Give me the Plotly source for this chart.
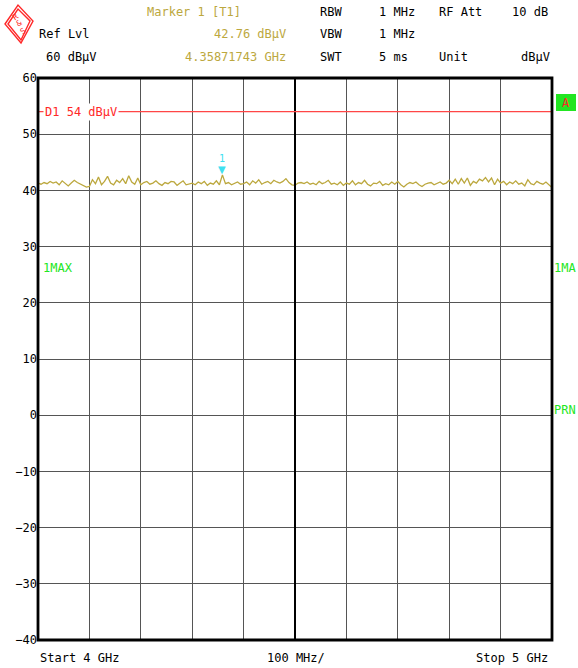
import numpy as np
import plotly.graph_objects as go

# Sweep settings (MHz)
start_mhz = 4000
stop_mhz = 5000
span_per_div = 100

# Max-hold trace levels in dBµV, one list per 100 MHz division
div_levels = [
    [41.3, 41.1, 41.4, 41.2, 41.6, 41.3, 41.5, 41.0, 41.7, 41.2, 40.8, 41.3, 41.8, 41.4, 41.1, 40.9, 40.6],
    [40.7, 41.9, 41.2, 42.4, 41.0, 41.6, 42.5, 41.3, 41.0, 41.8, 41.4, 42.1, 41.2, 42.6, 41.5, 41.1, 42.2],
    [41.0, 41.4, 41.6, 41.1, 41.3, 41.7, 41.2, 40.9, 41.4, 41.2, 41.6, 41.5, 40.9, 41.3, 41.7, 41.0, 41.2],
    [41.3, 41.0, 41.5, 41.2, 41.6, 40.9, 41.3, 41.1, 41.7, 41.0, 42.76, 41.2, 41.4, 41.0, 41.3, 41.5, 41.1],
    [41.2, 41.5, 41.0, 41.7, 41.3, 41.9, 41.1, 41.4, 41.6, 41.2, 41.8, 41.5, 41.3, 41.6, 42.1, 41.4, 41.0],
    [40.9, 41.3, 41.4, 41.2, 41.5, 41.1, 41.3, 41.0, 41.6, 41.2, 41.4, 41.8, 41.1, 41.3, 41.0, 41.5, 40.9],
    [41.3, 41.1, 41.7, 41.0, 41.4, 41.2, 41.8, 41.1, 40.8, 41.3, 41.2, 41.6, 40.9, 41.2, 41.0, 41.5, 41.1],
    [41.6, 41.0, 40.6, 41.1, 41.4, 41.2, 41.5, 41.0, 40.7, 41.1, 41.3, 41.4, 41.0, 41.2, 41.5, 41.1, 41.3],
    [41.8, 41.2, 42.0, 41.1, 42.1, 41.3, 42.2, 40.9, 41.6, 41.3, 42.0, 41.7, 42.3, 41.5, 42.2, 41.0, 42.0],
    [41.3, 41.6, 41.0, 41.5, 41.2, 41.7, 41.1, 41.3, 40.8, 41.9, 41.2, 41.0, 41.6, 41.3, 41.1, 41.5, 40.9, 40.5],
]
levels = [v for d in div_levels for v in d]
freqs = np.linspace(start_mhz, stop_mhz, len(levels))

# Marker 1 and display line
marker_freq_mhz = 4358.71743
marker_level = 42.76
d1_level = 54
ref_level = 60
y_ticks = list(range(-40, 61, 10))

# Pixel frame of the diagram
W, H = 578, 668
L, R, T, B = 38, 552, 78, 640


def px(x):
    return (x - L) / (R - L)


def py(y):
    return (B - y) / (B - T)


FONT = "DejaVu Sans Mono"
OLIVE = "#bca83e"
RED = "#ff2828"
GREEN = "#22e622"

fig = go.Figure()
fig.add_trace(go.Scatter(
    x=freqs, y=levels, mode="lines",
    line=dict(color=OLIVE, width=1.3), hoverinfo="skip", showlegend=False,
))

shapes = []
# centre line
shapes.append(dict(type="line", xref="x", yref="paper", x0=4500, x1=4500, y0=0, y1=1,
                   line=dict(color="black", width=2)))
# display line D1
shapes.append(dict(type="line", xref="paper", yref="y", x0=0, x1=1, y0=d1_level, y1=d1_level,
                   line=dict(color="#ff4646", width=1.2)))
# frame
shapes.append(dict(type="rect", xref="paper", yref="paper", x0=0, x1=1, y0=0, y1=1,
                   line=dict(color="black", width=2.8)))
# limit-check box "A"
shapes.append(dict(type="rect", xref="paper", yref="paper", x0=px(556), x1=px(576),
                   y0=py(111), y1=py(94), fillcolor=GREEN, line=dict(width=0)))


def diamond(pts):
    p = "M " + " L ".join(f"{px(x)},{py(y)}" for x, y in pts) + " Z"
    return dict(type="path", xref="paper", yref="paper", path=p,
                line=dict(color=RED, width=1.4))


shapes.append(diamond([(5, 24), (18, 5), (33, 21), (21, 43)]))
shapes.append(diamond([(8, 24), (18, 9), (30, 21), (21, 40)]))

ann = []


def text(s, x, y, anchor="left", color="black", size=12, **kw):
    ann.append(dict(text=s, x=px(x), y=py(y), xref="paper", yref="paper", showarrow=False,
                    xanchor=anchor, yanchor="middle", font=dict(family=FONT, size=size, color=color),
                    **kw))


# header
text("Marker 1 [T1]", 145, 12.5, color=OLIVE)
text(f"{marker_level:.2f} dBµV", 288, 34.5, anchor="right", color=OLIVE)
text(f"{marker_freq_mhz / 1000:.8f} GHz", 288, 57.5, anchor="right", color=OLIVE)
text("Ref Lvl", 37, 34.5)
text(f"{ref_level} dBµV", 44, 57.5)
text("RBW", 318, 12.5)
text("1 MHz", 377, 12.5)
text("RF Att", 437, 12.5)
text("10 dB", 510, 12.5)
text("VBW", 318, 34.5)
text("1 MHz", 377, 34.5)
text("SWT", 318, 57.5)
text("5 ms", 377, 57.5)
text("Unit", 437, 57.5)
text("dBµV", 552, 57.5, anchor="right")

# footer
text(f"Start {start_mhz // 1000} GHz", 38, 657.5)
text(f"{span_per_div} MHz/", 296, 657.5, anchor="center")
text(f"Stop {stop_mhz // 1000} GHz", 550, 657.5, anchor="right")

# side labels
text("1MAX", 41, 268, color=GREEN)
text("1MA", 578, 268, anchor="right", color=GREEN)
text("PRN", 578, 410, anchor="right", color=GREEN)
text("A", 566, 102.5, anchor="center", color=RED)

# logo letters
text("R", 15, 17, anchor="center", color=RED, size=8, textangle=-35)
text("&", 19, 24, anchor="center", color=RED, size=8, textangle=-35)
text("S", 23, 32, anchor="center", color=RED, size=8, textangle=-35)

# D1 label on the display line
ann.append(dict(text=f"D1 {d1_level} dBµV", x=0, y=d1_level, xref="paper", yref="y",
                xanchor="left", yanchor="middle", xshift=5, showarrow=False,
                bgcolor="white", borderpad=1,
                font=dict(family=FONT, size=12, color=RED)))

# marker 1 symbol
ann.append(dict(text="▼", x=marker_freq_mhz, y=marker_level, xref="x", yref="y",
                yanchor="bottom", showarrow=False, yshift=-2,
                font=dict(family="DejaVu Sans", size=10, color="#40e0f0")))
ann.append(dict(text="1", x=marker_freq_mhz, y=marker_level, xref="x", yref="y",
                yanchor="bottom", showarrow=False, yshift=9,
                font=dict(family=FONT, size=10, color="#40e0f0")))

fig.update_layout(
    width=W, height=H,
    margin=dict(l=L, r=W - R, t=T, b=H - B, pad=0),
    paper_bgcolor="white", plot_bgcolor="white",
    shapes=shapes, annotations=ann,
    xaxis=dict(range=[start_mhz, stop_mhz], dtick=span_per_div, tick0=start_mhz,
               showticklabels=False, showgrid=True, gridcolor="#555555", gridwidth=1,
               zeroline=False, ticks=""),
    yaxis=dict(range=[-40, 60], tickvals=y_ticks, showgrid=True, gridcolor="#555555",
               gridwidth=1, zeroline=False, ticks="",
               tickfont=dict(family=FONT, size=12, color="black")),
)

fig.write_html("out.html")
